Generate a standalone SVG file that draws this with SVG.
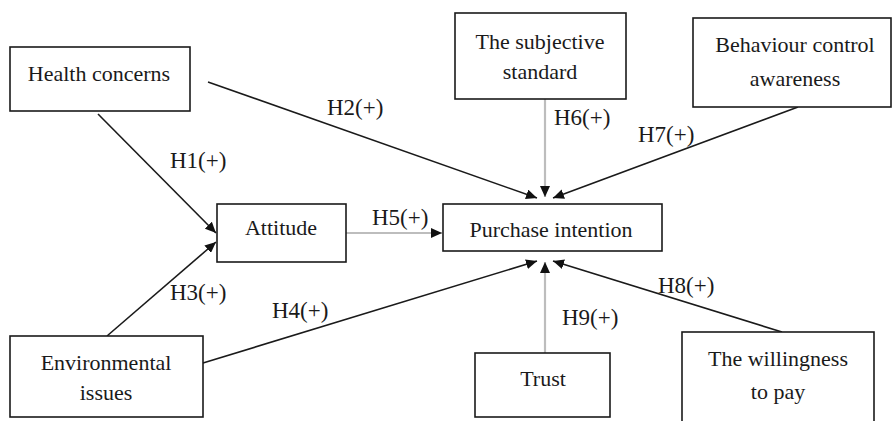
<svg xmlns="http://www.w3.org/2000/svg" width="894" height="421" viewBox="0 0 894 421">
<style>
.box{fill:#fff;stroke:#1a1a1a;stroke-width:1.6}
.t{font-family:"Liberation Serif","Times New Roman",serif;font-size:22px;fill:#1a1a1a;text-anchor:middle}
.lbl{font-family:"Liberation Serif","Times New Roman",serif;font-size:23px;fill:#1a1a1a}
.c{stroke:#1a1a1a;stroke-width:1.6;fill:none;marker-end:url(#ah)}
.g{stroke:#bdbdbd;stroke-width:2.2;fill:none;marker-end:url(#ah)}
</style>
<defs>
<marker id="ah" markerUnits="userSpaceOnUse" markerWidth="12" markerHeight="10" refX="11" refY="5" orient="auto">
<path d="M0,0 L11,5 L0,10 z" fill="#111"/>
</marker>
</defs>
<rect width="894" height="421" fill="#fff"/>
<g id="connectors">
<line class="c" x1="98" y1="114" x2="216" y2="233"/>
<line class="c" x1="208" y1="82" x2="537" y2="198"/>
<line class="c" x1="107" y1="336" x2="216" y2="242"/>
<line class="c" x1="203" y1="363" x2="537" y2="261"/>
<line class="g" x1="346" y1="233" x2="442" y2="233"/>
<line class="g" x1="545" y1="99" x2="545" y2="197"/>
<line class="c" x1="798" y1="107" x2="553" y2="198"/>
<line class="c" x1="782" y1="332" x2="553" y2="261"/>
<line class="g" x1="545" y1="353" x2="545" y2="262"/>
<text class="lbl" x="170" y="168">H1(+)</text>
<text class="lbl" x="327" y="115">H2(+)</text>
<text class="lbl" x="170" y="300">H3(+)</text>
<text class="lbl" x="272" y="318">H4(+)</text>
<text class="lbl" x="372" y="225">H5(+)</text>
<text class="lbl" x="554" y="125">H6(+)</text>
<text class="lbl" x="638" y="142">H7(+)</text>
<text class="lbl" x="658" y="293">H8(+)</text>
<text class="lbl" x="562" y="325">H9(+)</text>
</g>
<g id="health">
<rect class="box" x="10" y="47" width="180" height="64"/>
<text class="t" x="99" y="81">Health concerns</text>
</g>
<g id="subjective">
<rect class="box" x="455" y="13" width="171" height="86"/>
<text class="t" x="540" y="49">The subjective</text>
<text class="t" x="540" y="79">standard</text>
</g>
<g id="behaviour">
<rect class="box" x="693" y="18" width="198" height="89"/>
<text class="t" x="795" y="52">Behaviour control</text>
<text class="t" x="795" y="86">awareness</text>
</g>
<g id="attitude">
<rect class="box" x="217" y="204" width="129" height="58"/>
<text class="t" x="281" y="235">Attitude</text>
</g>
<g id="purchase">
<rect class="box" x="443" y="204" width="219" height="47"/>
<text class="t" x="551" y="237">Purchase intention</text>
</g>
<g id="environmental">
<rect class="box" x="10" y="336" width="193" height="81"/>
<text class="t" x="106" y="370">Environmental</text>
<text class="t" x="106" y="400">issues</text>
</g>
<g id="trust">
<rect class="box" x="475" y="353" width="135" height="64"/>
<text class="t" x="543" y="386">Trust</text>
</g>
<g id="willingness">
<rect class="box" x="682" y="332" width="192" height="100"/>
<text class="t" x="778" y="366">The willingness</text>
<text class="t" x="778" y="399">to pay</text>
</g>
</svg>
